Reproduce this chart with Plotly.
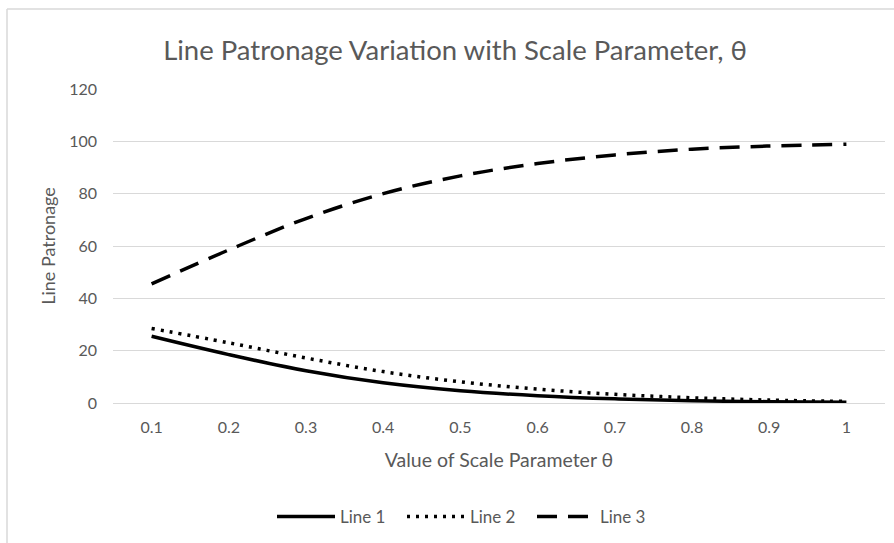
import plotly.graph_objects as go

theta = ["0.1", "0.2", "0.3", "0.4", "0.5", "0.6", "0.7", "0.8", "0.9", "1"]
line1 = [25.5, 18.5, 12.3, 7.7, 4.7, 2.8, 1.6, 0.9, 0.5, 0.3]
line2 = [28.5, 23.0, 17.2, 12.0, 8.1, 5.3, 3.3, 2.0, 1.1, 0.6]
line3 = [45.5, 58.5, 70.5, 80.0, 86.8, 91.5, 94.8, 97.0, 98.2, 98.9]
yticks = [0, 20, 40, 60, 80, 100, 120]

FONT = "Lato"
TXT = "#595959"

fig = go.Figure()
fig.add_trace(go.Scatter(x=theta, y=line1, name="Line 1", mode="lines",
                         line=dict(color="black", width=3.5, shape="spline")))
fig.add_trace(go.Scatter(x=theta, y=line2, name="Line 2", mode="lines",
                         line=dict(color="black", width=3.5, shape="spline", dash="3px,6px")))
fig.add_trace(go.Scatter(x=theta, y=line3, name="Line 3", mode="lines",
                         line=dict(color="black", width=3.5, shape="spline", dash="20px,11px")))

L, R, T, B = 113, 9, 89, 140
W, H = 894, 543
pw, ph = W - L - R, H - T - B

def px_x(p):
    return (p - L) / pw

def px_y(p):
    return (H - B - p) / ph

fig.update_layout(
    width=W, height=H,
    margin=dict(l=L, r=R, t=T, b=B),
    paper_bgcolor="white", plot_bgcolor="white",
    font=dict(family=FONT, color=TXT, size=16),
    title=dict(text="Line Patronage Variation with Scale Parameter, θ",
               x=455 / W, xref="container", xanchor="center",
               y=1 - 50 / H, yref="container", yanchor="middle",
               font=dict(size=27.5, color=TXT, family=FONT)),
    xaxis=dict(type="category", range=[-0.5, 9.5], showgrid=False, showline=True,
               linecolor="#d9d9d9", linewidth=1, ticks="", ticklabelstandoff=10,
               tickfont=dict(size=16, color=TXT),
               title=dict(text="Value of Scale Parameter θ", standoff=18,
                          font=dict(size=19.5, color=TXT))),
    yaxis=dict(range=[0, 120], tickvals=yticks, showgrid=True, gridcolor="#d9d9d9",
               gridwidth=1, zeroline=False, showline=False, ticks="",
               ticklabelstandoff=15, tickfont=dict(size=16, color=TXT),
               title=dict(text="Line Patronage", standoff=8,
                          font=dict(size=18, color=TXT))),
    legend=dict(orientation="h", x=467 / W, xref="container", xanchor="center",
                y=1 - 517 / H, yref="container", yanchor="middle",
                itemwidth=58, entrywidth=57, entrywidthmode="pixels",
                font=dict(size=17, color=TXT), tracegroupgap=0),
    showlegend=True,
    shapes=[
        dict(type="line", xref="paper", yref="paper", x0=px_x(7), x1=px_x(7),
             y0=px_y(9), y1=px_y(560), line=dict(color="#d9d9d9", width=1.5)),
        dict(type="line", xref="paper", yref="paper", x0=px_x(7), x1=px_x(910),
             y0=px_y(9), y1=px_y(9), line=dict(color="#d9d9d9", width=1.5)),
    ],
)

fig.write_html("out.html", config={"displayModeBar": False},
               post_script="document.body.style.margin='0';document.body.style.overflow='hidden';")
